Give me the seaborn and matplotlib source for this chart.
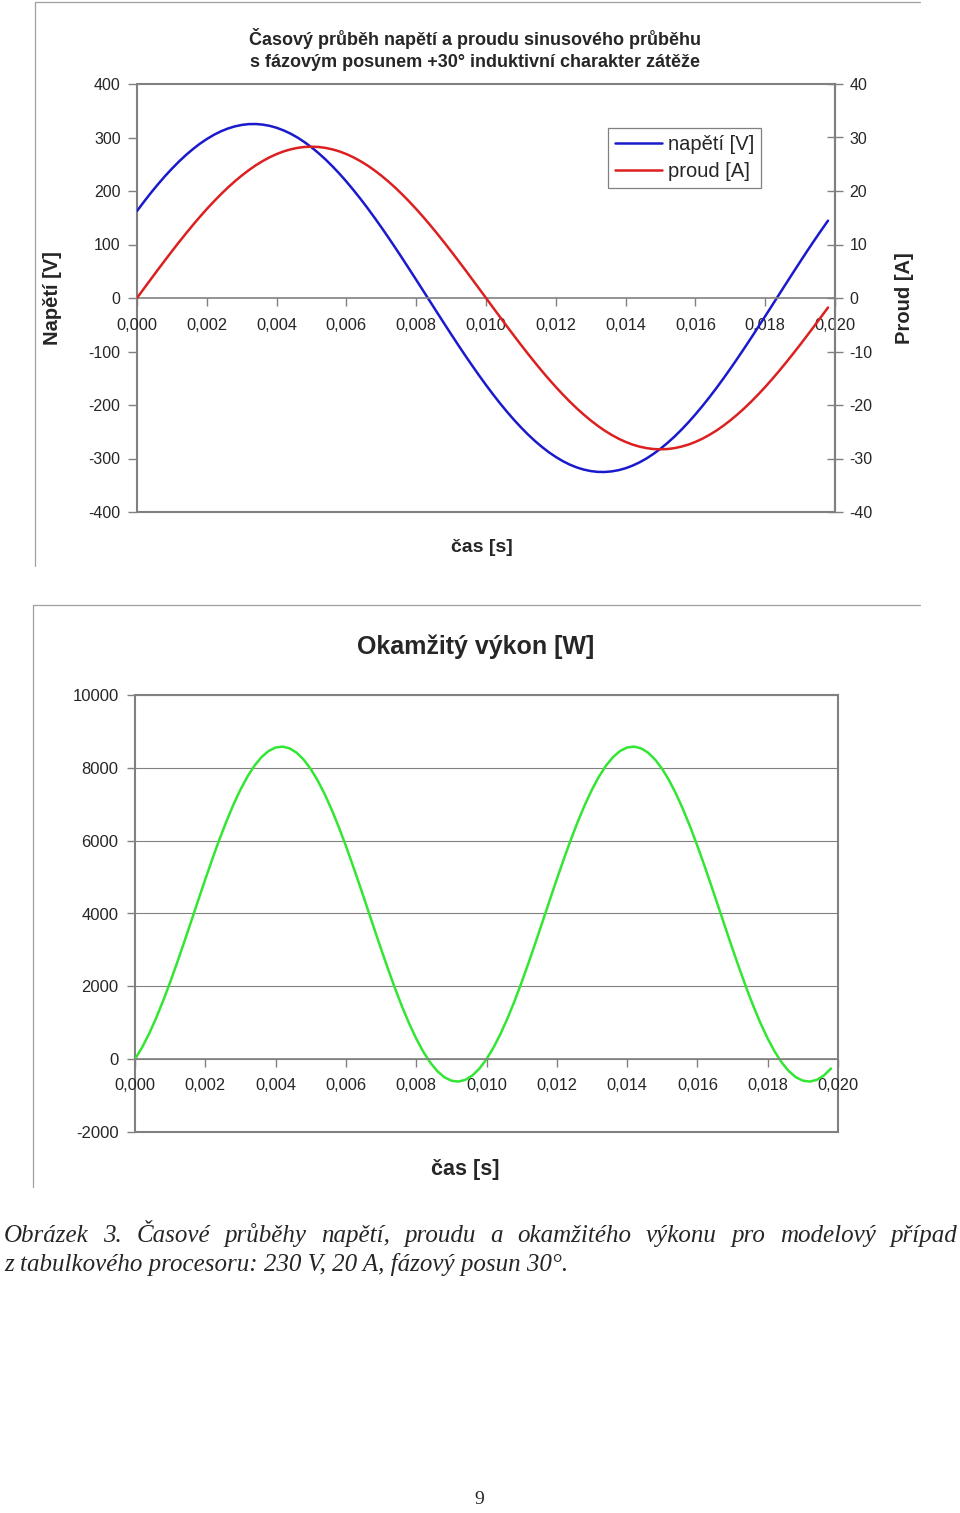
import numpy as np
import seaborn as sns
import matplotlib.pyplot as plt
from matplotlib.lines import Line2D

# time samples [s]
cas = [0.0000, 0.0002, 0.0004, 0.0006, 0.0008, 0.0010, 0.0012, 0.0014, 0.0016, 0.0018,
       0.0020, 0.0022, 0.0024, 0.0026, 0.0028, 0.0030, 0.0032, 0.0034, 0.0036, 0.0038,
       0.0040, 0.0042, 0.0044, 0.0046, 0.0048, 0.0050, 0.0052, 0.0054, 0.0056, 0.0058,
       0.0060, 0.0062, 0.0064, 0.0066, 0.0068, 0.0070, 0.0072, 0.0074, 0.0076, 0.0078,
       0.0080, 0.0082, 0.0084, 0.0086, 0.0088, 0.0090, 0.0092, 0.0094, 0.0096, 0.0098,
       0.0100, 0.0102, 0.0104, 0.0106, 0.0108, 0.0110, 0.0112, 0.0114, 0.0116, 0.0118,
       0.0120, 0.0122, 0.0124, 0.0126, 0.0128, 0.0130, 0.0132, 0.0134, 0.0136, 0.0138,
       0.0140, 0.0142, 0.0144, 0.0146, 0.0148, 0.0150, 0.0152, 0.0154, 0.0156, 0.0158,
       0.0160, 0.0162, 0.0164, 0.0166, 0.0168, 0.0170, 0.0172, 0.0174, 0.0176, 0.0178,
       0.0180, 0.0182, 0.0184, 0.0186, 0.0188, 0.0190, 0.0192, 0.0194, 0.0196, 0.0198]

# napeti [V]
napeti = [162.6, 180.0, 196.7, 212.5, 227.6, 241.7, 254.9, 267.1, 278.2, 288.3,
          297.1, 304.9, 311.4, 316.7, 320.7, 323.5, 325.0, 325.2, 324.1, 321.8,
          318.2, 313.3, 307.2, 299.9, 291.3, 281.7, 270.9, 259.1, 246.2, 232.4,
          217.6, 202.0, 185.6, 168.5, 150.7, 132.3, 113.4, 94.0, 74.3, 54.2,
          34.0, 13.6, -6.8, -27.2, -47.5, -67.6, -87.5, -107.0, -126.0, -144.6,
          -162.6, -180.0, -196.7, -212.5, -227.6, -241.7, -254.9, -267.1, -278.2, -288.3,
          -297.1, -304.9, -311.4, -316.7, -320.7, -323.5, -325.0, -325.2, -324.1, -321.8,
          -318.2, -313.3, -307.2, -299.9, -291.3, -281.7, -270.9, -259.1, -246.2, -232.4,
          -217.6, -202.0, -185.6, -168.5, -150.7, -132.3, -113.4, -94.0, -74.3, -54.2,
          -34.0, -13.6, 6.8, 27.2, 47.5, 67.6, 87.5, 107.0, 126.0, 144.6]

# proud [A]
proud = [0.00, 1.78, 3.54, 5.30, 7.03, 8.74, 10.41, 12.04, 13.63, 15.16,
         16.63, 18.03, 19.36, 20.62, 21.79, 22.88, 23.88, 24.79, 25.59, 26.30,
         26.90, 27.40, 27.78, 28.06, 28.23, 28.28, 28.23, 28.06, 27.78, 27.40,
         26.90, 26.30, 25.59, 24.79, 23.88, 22.88, 21.79, 20.62, 19.36, 18.03,
         16.63, 15.16, 13.63, 12.04, 10.41, 8.74, 7.03, 5.30, 3.54, 1.78,
         0.00, -1.78, -3.54, -5.30, -7.03, -8.74, -10.41, -12.04, -13.63, -15.16,
         -16.63, -18.03, -19.36, -20.62, -21.79, -22.88, -23.88, -24.79, -25.59, -26.30,
         -26.90, -27.40, -27.78, -28.06, -28.23, -28.28, -28.23, -28.06, -27.78, -27.40,
         -26.90, -26.30, -25.59, -24.79, -23.88, -22.88, -21.79, -20.62, -19.36, -18.03,
         -16.63, -15.16, -13.63, -12.04, -10.41, -8.74, -7.03, -5.30, -3.54, -1.78]

# okamzity vykon [W]
vykon = [0, 320, 697, 1126, 1601, 2113, 2654, 3217, 3791, 4369,
         4940, 5496, 6029, 6529, 6989, 7402, 7761, 8060, 8295, 8462,
         8558, 8583, 8534, 8414, 8224, 7967, 7648, 7270, 6841, 6367,
         5855, 5313, 4751, 4176, 3599, 3027, 2471, 1938, 1438, 978,
         565, 206, -93, -328, -495, -591, -615, -567, -447, -257,
         0, 320, 697, 1126, 1601, 2113, 2654, 3217, 3791, 4369,
         4940, 5496, 6029, 6529, 6989, 7402, 7761, 8060, 8295, 8462,
         8558, 8583, 8534, 8414, 8224, 7967, 7648, 7270, 6841, 6367,
         5855, 5313, 4751, 4176, 3599, 3027, 2471, 1938, 1438, 978,
         565, 206, -93, -328, -495, -591, -615, -567, -447, -257]

cas_ticks = [0.000, 0.002, 0.004, 0.006, 0.008, 0.010, 0.012, 0.014, 0.016, 0.018, 0.020]
napeti_ticks = [-400, -300, -200, -100, 0, 100, 200, 300, 400]
proud_ticks = [-40, -30, -20, -10, 0, 10, 20, 30, 40]
vykon_ticks = [-2000, 0, 2000, 4000, 6000, 8000, 10000]

titulek1 = "Časový průběh napětí a proudu sinusového průběhu\ns fázovým posunem +30° induktivní charakter zátěže"
titulek2 = "Okamžitý výkon [W]"
popis1 = "Obrázek 3. Časové průběhy napětí, proudu a okamžitého výkonu pro modelový případ"
popis2 = "z tabulkového procesoru: 230 V, 20 A, fázový posun 30°."

sns.set_style("white")
plt.rcParams['font.family'] = ['Liberation Sans', 'DejaVu Sans']
plt.rcParams['axes.unicode_minus'] = False

W, H = 960, 1513
def fx(x): return x / W
def fy(y): return 1 - y / H

GRAY = '#808080'
modra, cervena, zelena = '#1a1acd', '#dc2020', '#33e633'
fmt_cas = [f"{v:.3f}".replace('.', ',') for v in cas_ticks]

fig = plt.figure(figsize=(9.6, 15.13), dpi=100)
fig.patch.set_facecolor('white')

# outer chart frames (only top + left visible)
for (x0, x1, y0, y1) in [(35, 920, 2, 2), (35, 35, 2, 566), (33, 920, 605, 605), (33, 33, 605, 1187)]:
    fig.add_artist(Line2D([fx(x0), fx(x1)], [fy(y0), fy(y1)], color='#a0a0a0', lw=0.9))

# ---- top chart: napeti + proud
ax1 = fig.add_axes([fx(137), fy(512), (835 - 137) / W, (512 - 84) / H])
ax2 = ax1.twinx()
sns.lineplot(x=cas, y=napeti, ax=ax1, color=modra, linewidth=1.8)
sns.lineplot(x=cas, y=proud, ax=ax2, color=cervena, linewidth=1.8)
ax1.set_xlim(0, 0.020)
ax1.set_ylim(-400, 400)
ax2.set_ylim(-40, 40)
ax1.set_xticks(cas_ticks, fmt_cas)
ax1.set_yticks(napeti_ticks)
ax2.set_yticks(proud_ticks)
ax1.set_xlabel('')
ax1.set_ylabel('')
ax2.set_ylabel('')

ax1.spines['bottom'].set_position(('data', 0))
ax1.spines['bottom'].set_color(GRAY)
ax1.spines['bottom'].set_linewidth(1.2)
for s in ['top', 'right', 'left']:
    ax1.spines[s].set_visible(False)
for s in ['top', 'left', 'bottom']:
    ax2.spines[s].set_visible(False)
ax2.spines['right'].set_color(GRAY)
ax2.spines['right'].set_linewidth(1.5)
ax1.patch.set_edgecolor(GRAY)
ax1.patch.set_linewidth(1.5)

ax1.tick_params(axis='y', left=True, direction='out', length=6.5, width=1, color=GRAY,
                labelsize=11.5, pad=5.3)
ax1.tick_params(axis='x', bottom=True, direction='out', length=5.8, width=1, color=GRAY,
                labelsize=11.8, pad=8.5)
ax2.tick_params(axis='y', right=True, direction='inout', length=11, width=1, color=GRAY,
                labelsize=11.5, pad=5)

leg = ax2.legend(handles=[ax1.get_lines()[0], ax2.get_lines()[0]],
                 labels=['napětí [V]', 'proud [A]'],
                 loc='upper left', bbox_to_anchor=(fx(608), fy(128)), bbox_transform=fig.transFigure,
                 fontsize=14.5, frameon=True, fancybox=False, framealpha=1, borderaxespad=0,
                 borderpad=0.35, handlelength=2.33, handletextpad=0.3, labelspacing=0.4)
leg.get_frame().set_edgecolor(GRAY)
leg.get_frame().set_linewidth(0.9)

fig.text(fx(475), fy(49.5), titulek1, ha='center', va='center', fontsize=13, fontweight='bold',
         linespacing=1.45)
fig.text(fx(53), fy(298), 'Napětí [V]', rotation=90, ha='center', va='center', fontsize=14.5,
         fontweight='bold')
fig.text(fx(904), fy(298), 'Proud [A]', rotation=90, ha='center', va='center', fontsize=14.5,
         fontweight='bold')
fig.text(fx(482), fy(548), 'čas [s]', ha='center', va='center', fontsize=14, fontweight='bold')

# ---- bottom chart: okamzity vykon
ax3 = fig.add_axes([fx(135), fy(1132), (838 - 135) / W, (1132 - 695) / H])
sns.lineplot(x=cas, y=vykon, ax=ax3, color=zelena, linewidth=1.8)
ax3.set_xlim(0, 0.020)
ax3.set_ylim(-2000, 10000)
ax3.set_xticks(cas_ticks, fmt_cas)
ax3.set_yticks(vykon_ticks)
ax3.set_xlabel('')
ax3.set_ylabel('')
ax3.yaxis.grid(True, color=GRAY, lw=0.8)
ax3.set_axisbelow(True)
ax3.spines['bottom'].set_position(('data', 0))
ax3.spines['bottom'].set_color(GRAY)
ax3.spines['bottom'].set_linewidth(1.2)
for s in ['top', 'right', 'left']:
    ax3.spines[s].set_visible(False)
ax3.patch.set_edgecolor(GRAY)
ax3.patch.set_linewidth(1.5)
ax3.tick_params(axis='y', left=True, direction='out', length=6, width=1, color=GRAY,
                labelsize=12, pad=5.8)
ax3.tick_params(axis='x', bottom=True, direction='out', length=6, width=1, color=GRAY,
                labelsize=11.8, pad=7.2)

fig.text(fx(476), fy(647), titulek2, ha='center', va='center', fontsize=18, fontweight='bold')
fig.text(fx(465), fy(1169), 'čas [s]', ha='center', va='center', fontsize=15.5, fontweight='bold')

# ---- caption (first line justified)
serif = ['Liberation Serif', 'DejaVu Serif']
slova = popis1.split(' ')
texty = [fig.text(0, fy(1242), s, ha='left', va='baseline', fontsize=18, style='italic',
                  family=serif) for s in slova]
renderer = fig.canvas.get_renderer()
sirky = [t.get_window_extent(renderer).width for t in texty]
mezera = (957 - 4 - sum(sirky)) / (len(slova) - 1)
x = 4
for t, w in zip(texty, sirky):
    t.set_x(fx(x))
    x += w + mezera
fig.text(fx(4), fy(1271), popis2, ha='left', va='baseline', fontsize=18, style='italic', family=serif)
fig.text(fx(479), fy(1500), '9', ha='center', va='center', fontsize=14, family=serif)

fig.savefig('out.png', dpi=100, facecolor='white')
